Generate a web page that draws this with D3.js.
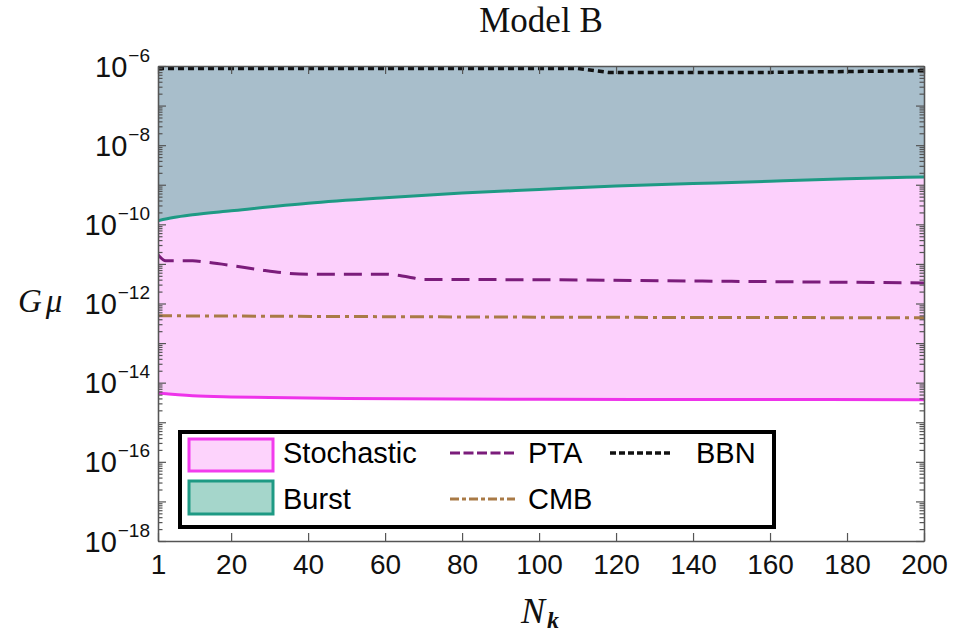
<!DOCTYPE html>
<html>
<head>
<meta charset="utf-8">
<script src="https://cdnjs.cloudflare.com/ajax/libs/d3/7.8.5/d3.min.js"></script>
<style>
  body { margin: 0; background: #fff; }
  svg { display: block; }
  .tick text { font-family: "Liberation Sans", Arial, sans-serif; fill: #111; }
</style>
</head>
<body>
<div id="chart"></div>
<script>
// values (G mu against N_k)
var burstN = [1, 5, 10, 20, 40, 60, 80, 100, 120, 140, 160, 180, 200];
var burstLow = [1.23e-10, 1.48e-10, 1.74e-10, 2.19e-10, 3.39e-10, 4.68e-10, 6.17e-10, 7.59e-10, 9.33e-10, 1.07e-9, 1.23e-9, 1.41e-9, 1.58e-9];

var stochN = [1, 10, 20, 30, 50, 100, 150, 200];
var stochLow = [5.5e-15, 4.68e-15, 4.37e-15, 4.22e-15, 3.98e-15, 3.8e-15, 3.76e-15, 3.72e-15];

var ptaN = [1, 3, 10, 13, 20, 27, 34, 40, 60, 66, 70, 100, 150, 200];
var ptaVal = [1.7e-11, 1.2e-11, 1.2e-11, 1.12e-11, 9.12e-12, 7.24e-12, 5.89e-12, 5.5e-12, 5.5e-12, 4.68e-12, 4.07e-12, 3.98e-12, 3.63e-12, 3.31e-12];

var cmbN = [1, 100, 200];
var cmbVal = [4.9e-13, 4.52e-13, 4.37e-13];

var bbnN = [1, 110, 118, 160, 200];
var bbnVal = [8.7e-7, 8.7e-7, 6.9e-7, 6.9e-7, 7.6e-7];

var xTicks = [1, 20, 40, 60, 80, 100, 120, 140, 160, 180, 200];
var yExponents = [-18, -17, -16, -15, -14, -13, -12, -11, -10, -9, -8, -7, -6];
var yLabelExponents = [-18, -16, -14, -12, -10, -8, -6];

var width = 961, height = 636;
var plotLeft = 158, plotRight = 924, plotTop = 66, plotBottom = 541;

var svg = d3.select("#chart").append("svg")
    .attr("width", width)
    .attr("height", height);

var x = d3.scaleLinear().domain([1, 200]).range([plotLeft, plotRight]);
var y = d3.scaleLog().domain([1e-18, 1e-6]).range([plotBottom, plotTop]);

svg.append("clipPath").attr("id", "plotclip")
    .append("rect")
    .attr("x", plotLeft).attr("y", plotTop)
    .attr("width", plotRight - plotLeft).attr("height", plotBottom - plotTop);

var plot = svg.append("g").attr("clip-path", "url(#plotclip)");

function zip(ns, vs) {
    return ns.map(function (n, i) { return { n: n, v: vs[i] }; });
}

var stochData = zip(stochN, stochLow);
var burstData = zip(burstN, burstLow);

// stochastic region: from its lower bound up to the top of the plot
plot.append("path")
    .datum(stochData)
    .attr("fill", "#fcd0fc")
    .attr("d", d3.area()
        .curve(d3.curveMonotoneX)
        .x(function (d) { return x(d.n); })
        .y0(function (d) { return y(d.v); })
        .y1(y(1e-6)));

// burst region overlaps it
plot.append("path")
    .datum(burstData)
    .attr("fill", "#a8becb")
    .attr("d", d3.area()
        .curve(d3.curveMonotoneX)
        .x(function (d) { return x(d.n); })
        .y0(function (d) { return y(d.v); })
        .y1(y(1e-6)));

var line = d3.line()
    .curve(d3.curveMonotoneX)
    .x(function (d) { return x(d.n); })
    .y(function (d) { return y(d.v); });

plot.append("path").datum(stochData)
    .attr("fill", "none").attr("stroke", "#ee33ea").attr("stroke-width", 3)
    .attr("d", line);

plot.append("path").datum(burstData)
    .attr("fill", "none").attr("stroke", "#1e9a84").attr("stroke-width", 3)
    .attr("d", line);

plot.append("path").datum(zip(ptaN, ptaVal))
    .attr("fill", "none").attr("stroke", "#7b1c7b").attr("stroke-width", 3)
    .attr("stroke-dasharray", "18,9")
    .attr("d", line);

plot.append("path").datum(zip(cmbN, cmbVal))
    .attr("fill", "none").attr("stroke", "#a97a46").attr("stroke-width", 3)
    .attr("stroke-dasharray", "14,5,4,5")
    .attr("d", line);

plot.append("path").datum(zip(bbnN, bbnVal))
    .attr("fill", "none").attr("stroke", "#111").attr("stroke-width", 3.5)
    .attr("stroke-dasharray", "6,4")
    .attr("d", d3.line()
        .x(function (d) { return x(d.n); })
        .y(function (d) { return y(d.v); }));

// axes
var minorValues = [];
yExponents.forEach(function (e) {
    if (e === -6) return;
    for (var k = 2; k <= 9; k++) minorValues.push(k * Math.pow(10, e));
});
var majorValues = yExponents.map(function (e) { return Math.pow(10, e); });

function styleAxis(g) {
    g.selectAll("path.domain").attr("stroke", "#555").attr("stroke-width", 1.3);
    g.selectAll(".tick line").attr("stroke", "#555").attr("stroke-width", 1.2);
}

var yMinor = svg.append("g")
    .attr("transform", "translate(" + plotLeft + ",0)")
    .call(d3.axisLeft(y).tickValues(minorValues).tickSize(-4.5).tickSizeOuter(0).tickFormat(""));
styleAxis(yMinor);

var yMajor = svg.append("g")
    .attr("transform", "translate(" + plotLeft + ",0)")
    .call(d3.axisLeft(y).tickValues(majorValues).tickSize(-8).tickSizeOuter(0).tickPadding(8)
        .tickFormat(function () { return ""; }));
styleAxis(yMajor);

yMajor.selectAll(".tick text").each(function (d) {
    var e = Math.round(Math.log10(d));
    if (yLabelExponents.indexOf(e) < 0) return;
    var t = d3.select(this)
        .attr("text-anchor", "end")
        .attr("font-size", 29)
        .attr("dy", 10);
    t.append("tspan").text("10");
    t.append("tspan").attr("font-size", 19).attr("dx", 1).attr("dy", -15).text("\u2212" + Math.abs(e));
});

var yRightMinor = svg.append("g")
    .attr("transform", "translate(" + plotRight + ",0)")
    .call(d3.axisRight(y).tickValues(minorValues).tickSize(-4.5).tickSizeOuter(0).tickFormat(""));
styleAxis(yRightMinor);

var yRightMajor = svg.append("g")
    .attr("transform", "translate(" + plotRight + ",0)")
    .call(d3.axisRight(y).tickValues(majorValues).tickSize(-8).tickSizeOuter(0).tickFormat(""));
styleAxis(yRightMajor);

var xBottom = svg.append("g")
    .attr("transform", "translate(0," + plotBottom + ")")
    .call(d3.axisBottom(x).tickValues(xTicks).tickSize(-8).tickSizeOuter(0).tickPadding(10)
        .tickFormat(d3.format("d")));
styleAxis(xBottom);
xBottom.selectAll(".tick text")
    .attr("font-size", 28)
    .attr("dy", "0.71em")
    .attr("y", 13);

var xTop = svg.append("g")
    .attr("transform", "translate(0," + plotTop + ")")
    .call(d3.axisTop(x).tickValues(xTicks).tickSize(-8).tickSizeOuter(0).tickFormat(""));
styleAxis(xTop);

// legend
var legend = svg.append("g").attr("font-family", "\"Liberation Sans\", Arial, sans-serif")
    .attr("font-size", 29).attr("fill", "#000");

legend.append("rect")
    .attr("x", 180).attr("y", 432).attr("width", 594).attr("height", 95)
    .attr("fill", "#fff").attr("stroke", "#000").attr("stroke-width", 4);

legend.append("rect")
    .attr("x", 189).attr("y", 439).attr("width", 84).attr("height", 32)
    .attr("fill", "#fdd3fc").attr("stroke", "#f23ced").attr("stroke-width", 3);
legend.append("rect")
    .attr("x", 189).attr("y", 481).attr("width", 84).attr("height", 33)
    .attr("fill", "#a5d6cb").attr("stroke", "#1e9a84").attr("stroke-width", 3);

legend.append("text").attr("x", 283).attr("y", 463).text("Stochastic");
legend.append("text").attr("x", 283).attr("y", 509).text("Burst");

legend.append("line").attr("x1", 450).attr("x2", 515).attr("y1", 453).attr("y2", 453)
    .attr("stroke", "#7b1c7b").attr("stroke-width", 3).attr("stroke-dasharray", "10,3.5");
legend.append("text").attr("x", 528).attr("y", 463).text("PTA");

legend.append("line").attr("x1", 450).attr("x2", 515).attr("y1", 499).attr("y2", 499)
    .attr("stroke", "#a97a46").attr("stroke-width", 3).attr("stroke-dasharray", "9,3,4,3");
legend.append("text").attr("x", 528).attr("y", 509).text("CMB");

legend.append("line").attr("x1", 610).attr("x2", 673).attr("y1", 453).attr("y2", 453)
    .attr("stroke", "#111").attr("stroke-width", 3.5).attr("stroke-dasharray", "6,3");
legend.append("text").attr("x", 696).attr("y", 463).text("BBN");

// titles
svg.append("text")
    .attr("x", 541).attr("y", 32)
    .attr("text-anchor", "middle")
    .attr("font-family", "\"Liberation Serif\", \"DejaVu Serif\", serif")
    .attr("font-size", 35)
    .attr("fill", "#111")
    .text("Model B");

var gm = svg.append("text")
    .attr("x", 18).attr("y", 312)
    .attr("font-family", "\"Liberation Serif\", \"DejaVu Serif\", serif")
    .attr("font-style", "italic")
    .attr("font-size", 33)
    .attr("fill", "#111");
gm.append("tspan").text("G");
gm.append("tspan").attr("dx", 4).text("\u03bc");

var nk = svg.append("text")
    .attr("x", 521).attr("y", 623)
    .attr("font-family", "\"Liberation Serif\", \"DejaVu Serif\", serif")
    .attr("font-style", "italic")
    .attr("font-size", 36)
    .attr("fill", "#111");
nk.append("tspan").text("N");
nk.append("tspan").attr("font-size", 24).attr("font-weight", "bold").attr("dx", 2).attr("dy", 5).text("k");
</script>
</body>
</html>
